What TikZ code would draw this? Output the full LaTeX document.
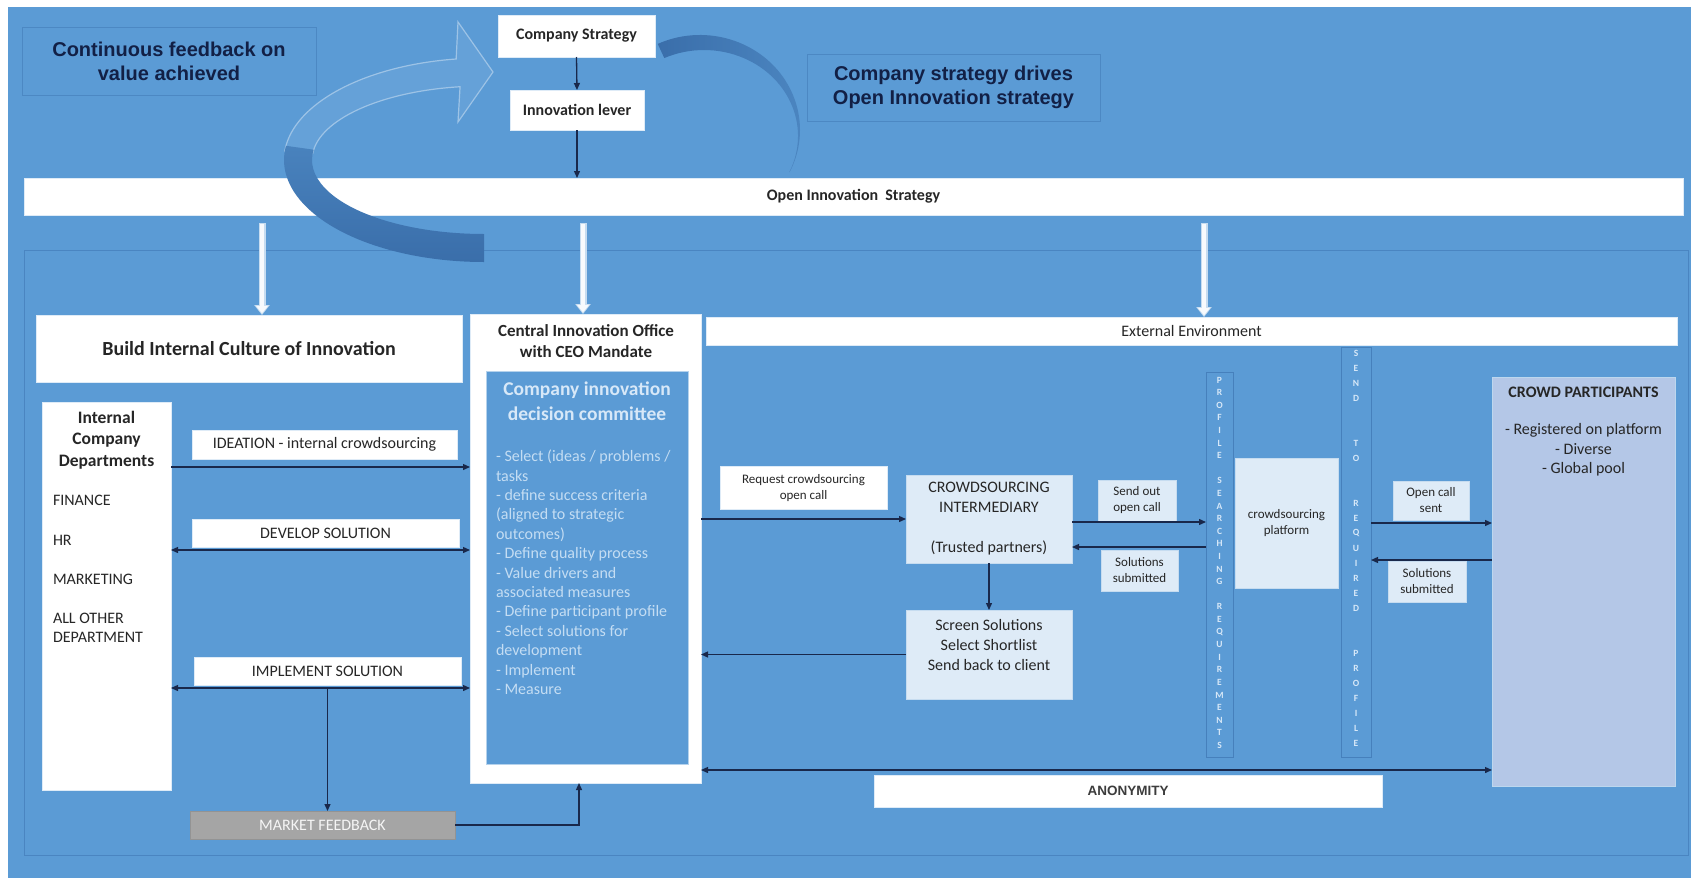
\documentclass[tikz,border=0pt]{standalone}
\usepackage{fontspec}
\setmainfont{Carlito}
\newfontfamily\arialf{Liberation Sans}
\usetikzlibrary{arrows.meta,calc}
\definecolor{bg}{RGB}{91,155,213}
\definecolor{bgframe}{RGB}{70,128,188}
\definecolor{navy}{RGB}{25,40,75}
\definecolor{navytxt}{RGB}{18,32,70}
\definecolor{txt}{RGB}{38,38,38}
\definecolor{lightfill}{RGB}{222,235,247}
\definecolor{crowdfill}{RGB}{180,199,231}
\definecolor{darkarc}{RGB}{58,110,170}
\definecolor{paletxt}{RGB}{215,232,248}
\definecolor{grayfill}{RGB}{165,165,165}
\definecolor{anontxt}{RGB}{60,60,60}
\newcommand\fs[2]{\fontsize{#1pt}{#2pt}\selectfont}
\begin{document}
\begin{tikzpicture}[x=1pt,y=-1pt,
  box/.style={inner sep=0pt, outer sep=0pt, align=center, text=txt},
  wbox/.style={box, fill=white, draw=white!80!bg, line width=0.6pt},
  lbox/.style={box, fill=lightfill, draw=white!65!bg, line width=0.6pt},
  fbox/.style={box, fill=bg, draw=bgframe!70!bg, line width=1pt},
  vbar/.style={box, draw=bgframe, line width=1pt, fill=bg},
  vlet/.style={inner sep=0pt, text=paletxt, font=\bfseries\fs{9.5}{10}},
  conn/.style={draw=navy, line width=1.3pt, -{Triangle[length=7pt,width=6pt]}},
  conn2/.style={draw=navy, line width=1.3pt, {Triangle[length=7pt,width=6pt]}-{Triangle[length=7pt,width=6pt]}},
  wdnO/.style={line width=7pt, draw=white!65!bg, -{Triangle[width=15pt,length=10pt]}},
  wdnI/.style={line width=4.6pt, draw=white!95!bg, shorten <=1.2pt, shorten >=1.6pt, -{Triangle[width=11.5pt,length=7.5pt]}},
  frame/.style={draw=bgframe!80!bg, line width=1pt},
  arcL/.style={fill=bg!94!white, draw=white!40!bg, line width=1.2pt},
]
\useasboundingbox (0,0) rectangle (1691,878);
\fill[white] (0,0) rectangle (1691,878);
\fill[bg] (8,7) rectangle (1691,878);
\draw[frame] (24,250) rectangle (1688,855);

% curved feedback arrow (back part)
\coordinate (ac) at (484,160);
\path[arcL] ($(ac)+(185:200 and 102)$) arc[start angle=185, end angle=262, x radius=200, y radius=102]
  -- (458,22) -- (493,72) -- (458,122) -- ($(ac)+(262:172 and 74)$)
  arc[start angle=262, end angle=185, x radius=172, y radius=74] -- cycle;

% top
\node[fbox, minimum width=294, minimum height=68, font=\arialf\bfseries\fs{20}{24}, text=navytxt] (fb) at (169,61) {Continuous feedback on\\value achieved};
\node[wbox, minimum width=157, minimum height=42, font=\bfseries\fs{16}{19}] (cs) at (576.5,36) {Company Strategy};
\node[wbox, minimum width=134, minimum height=40, font=\bfseries\fs{16}{19}] (il) at (577,110) {Innovation lever};
\node[fbox, minimum width=293, minimum height=67, font=\arialf\bfseries\fs{20}{24}, text=navytxt] (drv) at (953.5,87.5) {Company strategy drives\\Open Innovation strategy};
\node[wbox, minimum width=1659, minimum height=37, font=\bfseries\fs{16}{19}] (ois) at (853.5,196.5) {Open Innovation\ \ Strategy};

% curved arrow (front part)
\shade[top color=bg!45!darkarc, bottom color=darkarc] ($(ac)+(90:200 and 102)$) arc[start angle=90, end angle=188, x radius=200, y radius=102]
  -- ($(ac)+(188:172 and 74)$) arc[start angle=188, end angle=90, x radius=172, y radius=74] -- cycle;
\coordinate (rc) at (700,130);
\coordinate (rc2) at (704,136);
\shade[left color=darkarc, right color=bg!55!darkarc] ($(rc)+(-115:100 and 95)$) arc[start angle=-115, end angle=25, x radius=100, y radius=95]
  -- ($(rc2)+(25:94 and 86)$) arc[start angle=25, end angle=-115, x radius=94, y radius=86] -- cycle;

\draw[conn] (cs.south) -- (il.north);
\draw[conn] (il.south) -- (ois.north -| il.south);

% middle boxes
\node[wbox, minimum width=426, minimum height=67, font=\bfseries\fs{20}{24}] (bic) at (249,348.5) {Build Internal Culture of Innovation};
\node[wbox, minimum width=231, minimum height=469] (cio) at (585.5,548.5) {};
\node[box, font=\bfseries\fs{17}{21}] (cioT) at (586,341) {Central Innovation Office\\with CEO Mandate};
\node[box, fill=bg, draw=white!55!bg, line width=0.8pt, minimum width=202, minimum height=393] (cic) at (587,567.5) {};
\node[box, text=paletxt, font=\bfseries\fs{19.5}{25}] (cicT) at (587,401) {Company innovation\\decision committee};
\node[box, text=paletxt!85!bg, align=left, anchor=north west, font=\fs{16}{19.4}] (cicL) at (496,450) {- Select (ideas / problems /\\tasks\\- define success criteria\\(aligned to strategic\\outcomes)\\- Define quality process\\- Value drivers and\\associated measures\\- Define participant profile\\- Select solutions for\\development\\- Implement\\- Measure};
\node[wbox, minimum width=971, minimum height=28, font=\fs{16}{19}] (ext) at (1191.5,331) {External Environment};

% white down arrows
\coordinate (d1) at (262,0);
\coordinate (d2) at (583,0);
\coordinate (d3) at (1204,0);
\foreach \d/\t in {d1/bic, d2/cio, d3/ext} {
  \draw[wdnO] ($(ois.south -| \d)+(0,8)$) -- (\t.north -| \d);
  \draw[wdnI] ($(ois.south -| \d)+(0,8)$) -- (\t.north -| \d);
}

% internal departments
\node[wbox, minimum width=129, minimum height=388] (icd) at (106.5,596) {};
\node[box, font=\bfseries\fs{17.5}{21.5}] (icdT) at (106.5,440) {Internal\\Company\\Departments};
\node[box, anchor=west, font=\fs{16}{19}] (fin) at (53,500) {FINANCE};
\node[box, anchor=west, font=\fs{16}{19}] (hr) at (53,540) {HR};
\node[box, anchor=west, font=\fs{16}{19}] (mkt) at (53,579) {MARKETING};
\node[box, anchor=west, align=left, font=\fs{16}{19}] (oth) at (53,627.5) {ALL OTHER\\DEPARTMENT};

\node[wbox, minimum width=265, minimum height=29, font=\fs{16}{19}] (ide) at (324.5,444.5) {IDEATION - internal crowdsourcing};
\node[wbox, minimum width=267, minimum height=28, font=\fs{16}{19}] (dev) at (325.5,533) {DEVELOP SOLUTION};
\node[wbox, minimum width=267, minimum height=28, font=\fs{16}{19}] (imp) at (327.5,671) {IMPLEMENT SOLUTION};
\node[box, fill=grayfill, draw=gray!85, line width=0.6pt, minimum width=265, minimum height=28, font=\fs{16}{19}, text=white!92!gray] (mf) at (322.5,825) {MARKET FEEDBACK};

% external environment
\node[wbox, minimum width=167, minimum height=43, font=\fs{13}{15.5}] (req) at (803.5,488) {Request crowdsourcing\\open call};
\node[lbox, minimum width=166, minimum height=88, font=\fs{16}{20}] (ci) at (989,519) {CROWDSOURCING\\INTERMEDIARY\\[20pt](Trusted partners)};
\node[lbox, minimum width=166, minimum height=89] (scr) at (989,654.5) {};
\node[box, font=\fs{16}{20}] (scrT) at (989,644.5) {Screen Solutions\\Select Shortlist\\Send back to client};
\node[lbox, minimum width=78, minimum height=41, font=\fs{13}{16}] (soc) at (1137,500.5) {Send out\\open call};
\node[lbox, minimum width=77, minimum height=41, font=\fs{13}{16}] (ss1) at (1139.5,570.5) {Solutions\\submitted};
\node[vbar, minimum width=27, minimum height=385] (bar1) at (1219.5,564.5) {};
\node[lbox, minimum width=103, minimum height=130, font=\fs{13}{16}] (plat) at (1286.5,523) {crowdsourcing\\platform};
\node[vbar, minimum width=30, minimum height=410] (bar2) at (1356,552) {};
\node[lbox, minimum width=76, minimum height=39, font=\fs{13}{16}] (ocs) at (1431,500.5) {Open call\\sent};
\node[lbox, minimum width=78, minimum height=41, font=\fs{13}{16}] (ss2) at (1427,581.5) {Solutions\\submitted};
\node[box, fill=crowdfill, draw=white!60!bg, line width=0.8pt, minimum width=183, minimum height=409] (crowd) at (1583.5,581.5) {};
\node[box, anchor=north, font=\fs{16}{19.5}] (crowdT) at (1583.5,387) {\textbf{CROWD PARTICIPANTS}\\[18pt]- Registered on platform\\- Diverse\\- Global pool};
\node[wbox, minimum width=508, minimum height=32, font=\arialf\bfseries\fs{13.5}{16}, text=anontxt] (anon) at (1128,791) {ANONYMITY};

% vertical letters
\foreach \c [count=\i from 0] in {P,R,O,F,I,L,E,,S,E,A,R,C,H,I,N,G,,R,E,Q,U,I,R,E,M,E,N,T,S}
  \node[vlet] at (1219.5,380+12.6*\i) {\c};
\foreach \c [count=\i from 0] in {S,E,N,D,,,T,O,,,R,E,Q,U,I,R,E,D,,,P,R,O,F,I,L,E}
  \node[vlet] at (1356,353+15*\i) {\c};

% connectors
\coordinate (yIde) at (0,467);
\coordinate (yDev) at (0,550);
\coordinate (yImp) at (0,688);
\coordinate (ySo) at (0,522);
\coordinate (ySs) at (0,547);
\coordinate (yOc) at (0,523);
\coordinate (ySs2) at (0,560);
\coordinate (yAn) at (0,770);
\coordinate (xMF) at (579,0);
\draw[conn] (icd.east |- yIde) -- (cio.west |- yIde);
\draw[conn2] (icd.east |- yDev) -- (cio.west |- yDev);
\draw[conn2] (icd.east |- yImp) -- (cio.west |- yImp);
\draw[conn] ($(imp.south)+(0,3)$) -- (mf.north -| imp.south);
\draw[conn] (mf.east) -| (cio.south -| xMF);
\draw[conn] (cio.east |- ci.west) -- (ci.west);
\draw[conn] (ci.south) -- (scr.north);
\draw[conn] (scr.west) -- (cio.east |- scr.west);
\draw[conn] (ci.east |- ySo) -- (bar1.west |- ySo);
\draw[conn] (bar1.west |- ySs) -- (ci.east |- ySs);
\draw[conn] (bar2.east |- yOc) -- (crowd.west |- yOc);
\draw[conn] (crowd.west |- ySs2) -- (bar2.east |- ySs2);
\draw[conn2] (cio.east |- yAn) -- (crowd.west |- yAn);
\end{tikzpicture}
\end{document}
